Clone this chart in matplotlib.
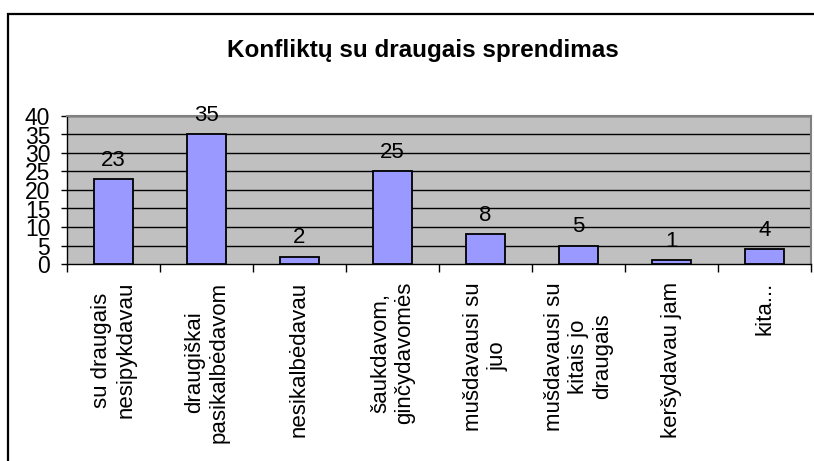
import matplotlib
matplotlib.use('Agg')
import matplotlib.pyplot as plt
from matplotlib.patches import Rectangle

plt.rcParams['font.family'] = ['Liberation Sans', 'DejaVu Sans']

categories = ['su draugais\nnesipykdavau', 'draugiškai\npasikalbėdavom', 'nesikalbėdavau',
              'šaukdavom,\ngin\u010dydavomės', 'mušdavausi su\njuo', 'mušdavausi su\nkitais jo\ndraugais',
              'keršydavau jam', 'kita...']
values = [23, 35, 2, 25, 8, 5, 1, 4]
yticks = [0, 5, 10, 15, 20, 25, 30, 35, 40]
title = 'Konfliktų su draugais sprendimas'

W, H = 814, 461
fig = plt.figure(figsize=(W / 100, H / 100), dpi=100)

# chart area frame
fig.patches.append(Rectangle((8 / W, -0.1), 1.2, 1 - 14 / H + 0.1, transform=fig.transFigure,
                             fill=False, edgecolor='black', linewidth=1.6))

ax = fig.add_axes([67 / W, 1 - 264 / H, (811 - 67) / W, (264 - 116) / H])
ax.set_facecolor('#C0C0C0')

x = list(range(len(values)))
ax.bar(x, values, width=0.41, color='#9999FF', edgecolor='black', linewidth=1.3, zorder=3)
for xi, v in zip(x, values):
    ax.annotate(str(v), (xi, v), xytext=(0, 6), textcoords='offset points',
                ha='center', va='bottom', fontsize=16)

ax.set_xlim(-0.5, len(values) - 0.5)
ax.set_ylim(0, 40)
ax.set_yticks(yticks)
ax.set_yticklabels([str(t) for t in yticks], fontsize=16.5)
ax.tick_params(axis='y', length=4, width=1, pad=8)
for t in yticks[1:]:
    ax.axhline(t, color='black', linewidth=1, zorder=1)

ax.set_xticks([i - 0.5 for i in range(len(values) + 1)])
ax.set_xticklabels([])
ax.tick_params(axis='x', length=6, width=1)
for xi, lab in zip(x, categories):
    ax.annotate(lab, (xi, 0), xycoords=('data', 'axes fraction'), xytext=(0, -13),
                textcoords='offset points', rotation=90, ha='center', va='top',
                multialignment='center', fontsize=16, linespacing=1.2)

ax.spines['top'].set_color('#808080')
ax.spines['right'].set_color('#808080')
ax.spines['top'].set_linewidth(1.5)
ax.spines['right'].set_linewidth(1.5)
ax.spines['left'].set_linewidth(1)
ax.spines['bottom'].set_linewidth(1)

fig.text(423 / W, 1 - 50 / H, title, ha='center', va='center', fontsize=17.5, fontweight='bold')

fig.savefig('out.png', dpi=100)
